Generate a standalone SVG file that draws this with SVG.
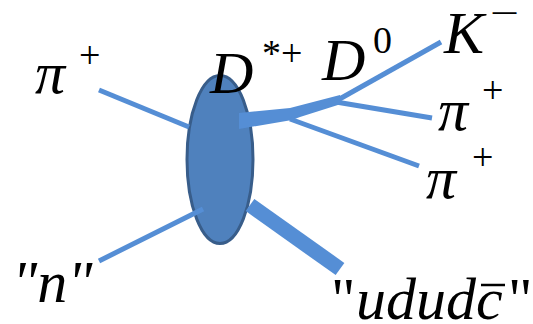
<svg xmlns="http://www.w3.org/2000/svg" width="533" height="324" viewBox="0 0 533 324">
<style>
.ln{stroke:#558ed5;stroke-width:5;fill:none;stroke-linecap:butt}
.bar{fill:#558ed5;stroke:none}
.t{font-family:"Liberation Serif","Times New Roman",serif;font-style:italic;font-size:60px;fill:#000}
.s{font-family:"Liberation Serif","Times New Roman",serif;font-style:normal;font-size:38px;fill:#000}
.r{font-family:"Liberation Serif","Times New Roman",serif;font-style:normal;font-size:60px;fill:#000}
</style>
<rect width="533" height="324" fill="#fff"/>
<g id="blob">
<ellipse cx="220" cy="159.5" rx="33" ry="84" fill="#4f81bd" stroke="#385d8a" stroke-width="3"/>
</g>
<g id="connectors">
<line class="ln" x1="99" y1="90" x2="189" y2="127"/>
<line class="ln" x1="99" y1="261" x2="203" y2="209"/>
<polygon class="bar" points="239,113 290,108 340,95 341,104 300,117 292,120 239,129"/>
<line class="ln" x1="336" y1="101" x2="441" y2="42"/>
<line class="ln" x1="336" y1="102" x2="432" y2="118"/>
<line class="ln" x1="290" y1="119" x2="419" y2="166"/>
<line x1="250" y1="205" x2="340" y2="269" stroke="#558ed5" stroke-width="15"/>
</g>
<g id="pi-in"><text class="t" x="35" y="93">π</text><text class="s" x="79" y="68">+</text></g>
<g id="n-in"><text class="t" x="12" y="302">"n"</text></g>
<g id="dstar"><text class="t" x="210" y="93">D</text><text class="s" x="262" y="66">*+</text></g>
<g id="d0"><text class="t" x="322" y="80">D</text><text class="s" x="373" y="53">0</text></g>
<g id="kminus"><text class="t" x="444" y="53">K</text><text class="s" x="490" y="26" textLength="29" lengthAdjust="spacingAndGlyphs">−</text></g>
<g id="pi-mid"><text class="t" x="438" y="130">π</text><text class="s" x="482" y="103">+</text></g>
<g id="pi-low"><text class="t" x="426" y="198">π</text><text class="s" x="472" y="170">+</text></g>
<g id="udud"><text class="r" x="331" y="319">"<tspan class="t" x="356">ududc</tspan><tspan x="508">"</tspan></text>
<line x1="481" y1="285" x2="505" y2="285" stroke="#000" stroke-width="2.5"/></g>
</svg>
